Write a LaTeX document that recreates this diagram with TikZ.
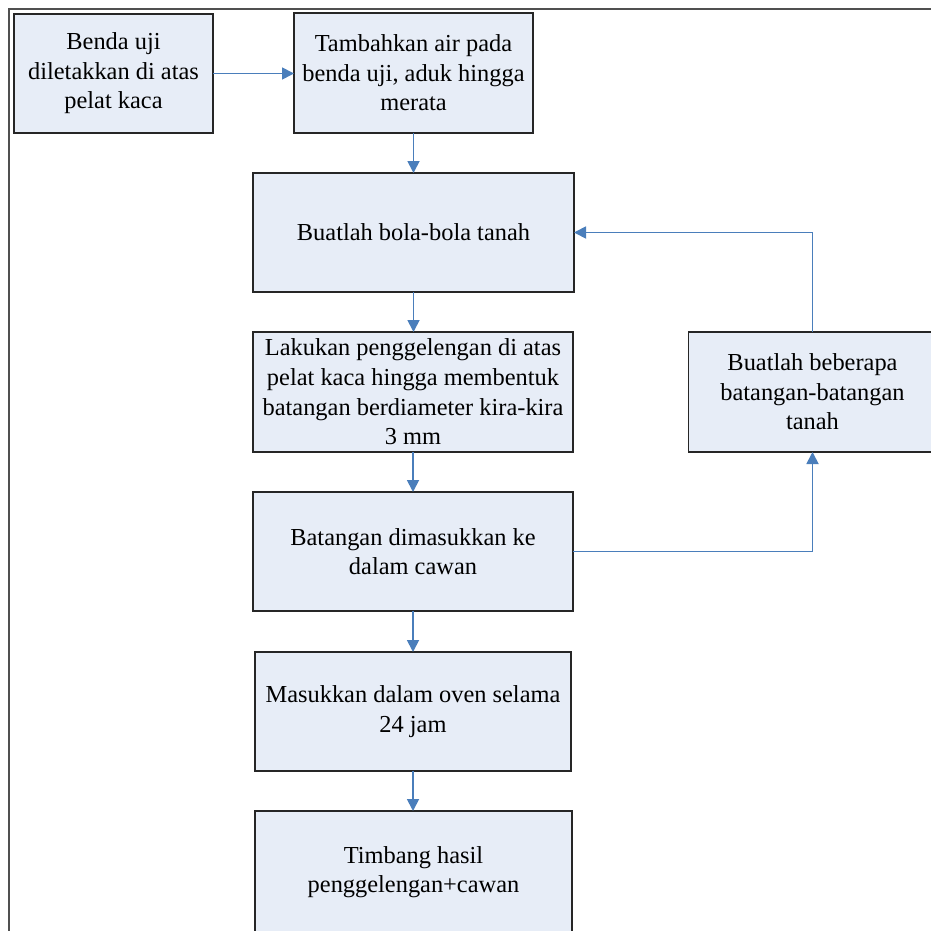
\documentclass[tikz,border=0pt]{standalone}
\usepackage{fontspec}
\setmainfont{Liberation Serif}
\usetikzlibrary{arrows.meta}
\definecolor{boxfill}{HTML}{E7EDF7}
\definecolor{boxline}{HTML}{262626}
\definecolor{arrowblue}{HTML}{4A7EBB}
\definecolor{framegray}{HTML}{505050}
\begin{document}
\begin{tikzpicture}[x=0.5pt,y=-0.5pt,
  stepbox/.style={draw=boxline,fill=boxfill,line width=0.9pt,inner sep=0pt,outer sep=0pt,
    align=center,font=\fontsize{12.2}{14.8}\selectfont},
  flow/.style={draw=arrowblue,line width=0.9pt,-{Triangle[length=6pt,width=6pt]}}]
\useasboundingbox (0,0) rectangle (931,931);
% frame
\coordinate (f1) at (9,931);
\coordinate (f2) at (9,9);
\coordinate (f3) at (931,9);
\draw[framegray,line width=1.1pt] (f1) -- (f2) -- (f3);
% boxes
\node[stepbox,minimum width=99.5pt,minimum height=59.5pt] (b1) at (113.5,73.5) {Benda uji\\diletakkan di atas\\pelat kaca};
\node[stepbox,minimum width=119.5pt,minimum height=60pt] (b2) at (413.5,73) {Tambahkan air pada\\benda uji, aduk hingga\\merata};
\node[stepbox,minimum width=160.5pt,minimum height=59.5pt] (b3) at (413.5,232.5) {Buatlah bola-bola tanah};
\node[stepbox,minimum width=160pt,minimum height=60pt] (b4) at (413,392) {Lakukan penggelengan di atas\\pelat kaca hingga membentuk\\batangan berdiameter kira-kira\\3 mm};
\node[stepbox,minimum width=124pt,minimum height=60pt] (b5) at (812.5,392) {Buatlah beberapa\\batangan-batangan\\tanah};
\node[stepbox,minimum width=160pt,minimum height=59.5pt] (b6) at (413,551.5) {Batangan dimasukkan ke\\dalam cawan};
\node[stepbox,minimum width=158pt,minimum height=59.5pt] (b7) at (413,711.5) {Masukkan dalam oven selama\\24 jam};
\node[stepbox,minimum width=158.5pt,minimum height=61pt] (b8) at (413.5,872) {Timbang hasil\\penggelengan+cawan};
% connectors
\draw[flow] (b1.east) -- (b1.east -| b2.west);
\draw[flow] (b2.south) -- (b2.south |- b3.north);
\draw[flow] (b3.south) -- (b3.south |- b4.north);
\draw[flow] (b4.south) -- (b4.south |- b6.north);
\draw[flow] (b6.south) -- (b6.south |- b7.north);
\draw[flow] (b7.south) -- (b7.south |- b8.north);
\draw[flow] (b6.east) -- (b6.east -| b5.south) -- (b5.south);
\draw[flow] (b5.north) -- (b5.north |- b3.east) -- (b3.east);
\end{tikzpicture}
\end{document}
